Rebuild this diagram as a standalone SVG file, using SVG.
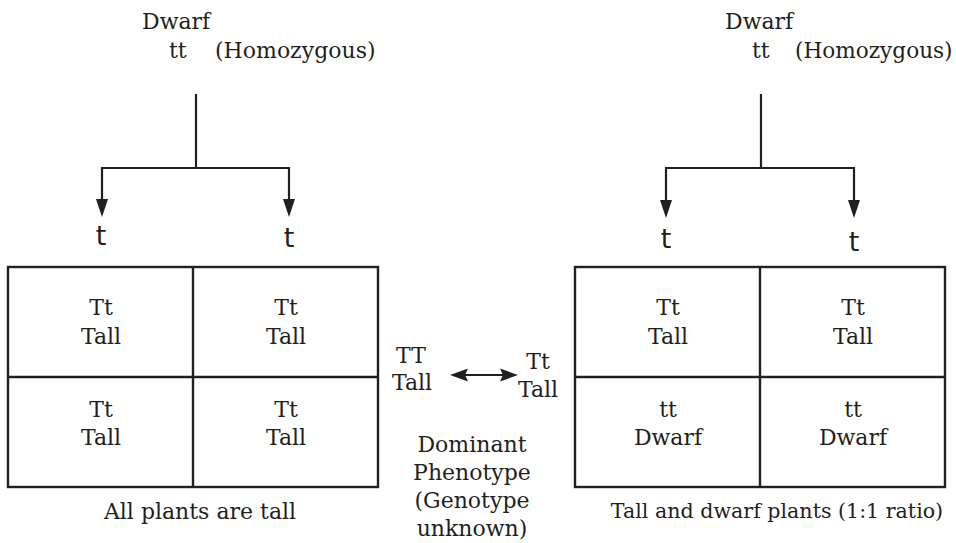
<svg xmlns="http://www.w3.org/2000/svg" width="956" height="543" viewBox="0 0 956 543">
<style>
text{font-family:"DejaVu Serif","Liberation Serif",serif;font-size:22px;fill:#231f20}
.c{text-anchor:middle}
.g{font-family:"DejaVu Sans","Liberation Sans",sans-serif;font-size:27px}
.ln{stroke:#231f20;stroke-width:2.2;fill:none}
.box{stroke:#231f20;stroke-width:2.4;fill:none}
.hd{fill:#231f20}
</style>
<g id="connectors">
<path class="ln" d="M196,94 V168 M101,168 H290 M102,167 V201 M289,167 V201"/>
<path class="hd" d="M96,199 L108,199 L102,217 Z M283,199 L295,199 L289,217 Z"/>
<path class="ln" d="M761,94 V168 M665,168 H855 M666,167 V202 M854,167 V202"/>
<path class="hd" d="M660,200 L672,200 L666,218 Z M848,200 L860,200 L854,218 Z"/>
<path class="ln" d="M462,375 H506"/>
<path class="hd" d="M450,375 L468,368.5 L465,375 L468,381.5 Z M518,375 L500,368.5 L503,375 L500,381.5 Z"/>
</g>
<g id="parent-left">
<text x="142" y="29">Dwarf</text>
<text x="169" y="58">tt</text>
<text x="215" y="58">(Homozygous)</text>
</g>
<g id="parent-right">
<text x="725" y="29">Dwarf</text>
<text x="752" y="58">tt</text>
<text x="795" y="58" style="font-size:21.6px">(Homozygous)</text>
</g>
<g id="gametes-left">
<text class="g c" x="101" y="245">t</text>
<text class="g c" x="289" y="247">t</text>
</g>
<g id="gametes-right">
<text class="g c" x="666" y="248">t</text>
<text class="g c" x="854" y="251">t</text>
</g>
<g id="grid-left">
<rect class="box" x="8" y="267" width="370" height="220"/>
<path class="box" d="M193,267 V487 M8,377 H378"/>
<text class="c" x="101" y="315">Tt</text><text class="c" x="101" y="344">Tall</text>
<text class="c" x="286" y="315">Tt</text><text class="c" x="286" y="344">Tall</text>
<text class="c" x="101" y="417">Tt</text><text class="c" x="101" y="445">Tall</text>
<text class="c" x="286" y="417">Tt</text><text class="c" x="286" y="445">Tall</text>
<text class="c" x="200" y="519">All plants are tall</text>
</g>
<g id="grid-right">
<rect class="box" x="575" y="267" width="370" height="220"/>
<path class="box" d="M760,267 V487 M575,377 H945"/>
<text class="c" x="668" y="315">Tt</text><text class="c" x="668" y="344">Tall</text>
<text class="c" x="853" y="315">Tt</text><text class="c" x="853" y="344">Tall</text>
<text class="c" x="668" y="417">tt</text><text class="c" x="668" y="445">Dwarf</text>
<text class="c" x="853" y="417">tt</text><text class="c" x="853" y="445">Dwarf</text>
<text class="c" x="777" y="518" style="font-size:20.6px">Tall and dwarf plants (1:1 ratio)</text>
</g>
<g id="middle">
<text class="c" x="411" y="363">TT</text>
<text class="c" x="412" y="390">Tall</text>
<text class="c" x="538" y="369">Tt</text>
<text class="c" x="538" y="397">Tall</text>
<text class="c" x="472" y="452">Dominant</text>
<text class="c" x="472" y="480">Phenotype</text>
<text class="c" x="472" y="508">(Genotype</text>
<text class="c" x="472" y="536">unknown)</text>
</g>
</svg>
